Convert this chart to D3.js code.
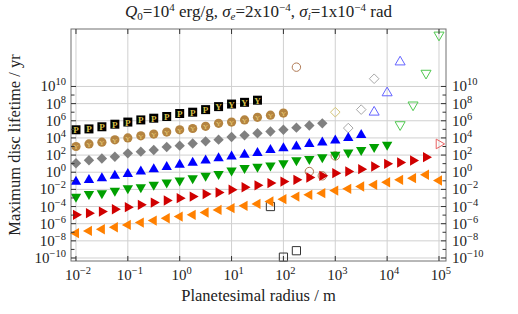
<!DOCTYPE html>
<html>
<head>
<meta charset="utf-8">
<script src="https://cdn.jsdelivr.net/npm/d3@7"></script>
<style>
  body { margin: 0; background: #fff; }
  svg { display: block; font-family: "Liberation Serif", "DejaVu Serif", serif; }
</style>
</head>
<body>
<div id="chart"></div>
<script>
// planetesimal radius grid (m), quarter decades
const radius = [1e-2, 1.78e-2, 3.16e-2, 5.62e-2, 1e-1, 1.78e-1, 3.16e-1, 5.62e-1,
  1, 1.78, 3.16, 5.62, 10, 17.8, 31.6, 56.2, 100, 178, 316, 562,
  1e3, 1.78e3, 3.16e3, 5.62e3, 1e4, 1.78e4, 3.16e4, 5.62e4, 1e5];

// log10 of max disc lifetime (yr); open markers follow straight after the filled ones
const blackFilled = [4.95, 5.05, 5.3, 5.6, 5.85, 6.1, 6.3, 6.5, 6.85, 7.0, 7.3, 7.65, 7.95, 8.15, 8.4];
const blackOpen = [-4.0, -9.9, -9.15];
const brownFilled = [3.0, 3.3, 3.5, 3.78, 4.0, 4.25, 4.45, 4.68, 4.95, 5.1, 5.35, 5.7, 5.85, 6.1, 6.4, 6.65, 6.9];
const brownOpen = [12.25, 0.08, -0.42, 1.9];
const grayFilled = [1.05, 1.4, 1.6, 1.8, 2.2, 2.4, 2.6, 2.95, 3.1, 3.35, 3.6, 3.8, 4.1, 4.3, 4.55, 4.75, 4.95, 5.2, 5.45, 5.7];
const grayOpen = [7.0, 5.15, 7.3, 10.9];
const blueFilled = [-1.1, -0.9, -0.7, -0.42, -0.2, 0.08, 0.35, 0.6, 0.86, 1.12, 1.37, 1.62, 1.83, 2.03, 2.25, 2.6, 2.8, 3.0, 3.3, 3.47, 3.7, 3.98, 4.35];
const blueOpen = [7.0, 9.25, 12.85];
const greenFilled = [-2.85, -2.55, -2.45, -2.15, -1.87, -1.74, -1.47, -1.2, -0.97, -0.7, -0.42, -0.2, 0.2, 0.48, 0.63, 0.78, 1.06, 1.4, 1.55, 1.76, 2.03, 2.3, 2.6, 2.93, 3.2];
const greenOpen = [5.55, 7.85, 11.55, 16.0];
const redFilled = [-4.97, -4.77, -4.59, -4.31, -4.07, -3.8, -3.54, -3.3, -3.02, -2.84, -2.55, -2.37, -2.05, -1.75, -1.53, -1.27, -1.09, -0.89, -0.62, -0.42, -0.11, 0.08, 0.36, 0.67, 0.98, 1.13, 1.37, 1.76];
const redOpen = [3.3];
const orangeFilled = [-7.1, -6.84, -6.64, -6.41, -6.14, -5.87, -5.64, -5.36, -5.17, -4.97, -4.7, -4.39, -4.19, -3.92, -3.69, -3.42, -3.14, -2.84, -2.64, -2.44, -2.14, -1.94, -1.67, -1.47, -1.16, -0.89, -0.69, -0.3, -0.97];
const orangeOpen = [];

const xTickExps = [-2, -1, 0, 1, 2, 3, 4, 5];
const yTickExps = [-10, -8, -6, -4, -2, 0, 2, 4, 6, 8, 10];

const width = 518, height = 314;
const margin = { top: 29, right: 72, bottom: 53, left: 71 };
const pw = width - margin.left - margin.right;
const ph = height - margin.top - margin.bottom;

const svg = d3.select("#chart").append("svg")
  .attr("width", width).attr("height", height);

const x = d3.scaleLog().domain([10 ** -2.096, 10 ** 5.135]).range([margin.left, margin.left + pw]);
const y = d3.scaleLog().domain([10 ** -10.35, 10 ** 16.7]).range([margin.top + ph, margin.top]);

// rich text helper: segments of [text, shift, size, italic]
function richText(sel, segs) {
  let prev = 0;
  segs.forEach(([t, shift, size, it]) => {
    sel.append("tspan")
      .attr("dy", shift - prev)
      .attr("font-size", size)
      .attr("font-style", it ? "italic" : null)
      .text(t);
    prev = shift;
  });
}
const pow10 = (e, big, small) => [["10", 0, big], [String(e).replace("-", "\u2212"), -6, small]];

// grid
const grid = svg.append("g").attr("stroke", "#d0d0d0").attr("stroke-width", 1);
grid.selectAll(".gx").data(xTickExps).enter().append("line")
  .attr("x1", d => x(10 ** d)).attr("x2", d => x(10 ** d))
  .attr("y1", margin.top).attr("y2", margin.top + ph);
grid.selectAll(".gy").data(yTickExps).enter().append("line")
  .attr("x1", margin.left).attr("x2", margin.left + pw)
  .attr("y1", d => y(10 ** d)).attr("y2", d => y(10 ** d));

// markers
function shapePath(kind, r) {
  const a = r * 0.866, b = r * 0.5;
  switch (kind) {
    case "up": return `M0,${-r}L${a},${b}L${-a},${b}Z`;
    case "down": return `M0,${r}L${a},${-b}L${-a},${-b}Z`;
    case "right": return `M${r},0L${-b},${a}L${-b},${-a}Z`;
    case "left": return `M${-r},0L${b},${a}L${b},${-a}Z`;
    case "diamond": return `M0,${-r}L${r},0L0,${r}L${-r},0Z`;
    case "square": return `M${-r},${-r}H${r}V${r}H${-r}Z`;
    case "circle": return d3.arc()({ innerRadius: 0, outerRadius: r, startAngle: 0, endAngle: 2 * Math.PI });
  }
}

const series = [
  { filled: blackFilled, open: blackOpen, kind: "square", r: 4.5, fill: "#000", stroke: "#333" },
  { filled: brownFilled, open: brownOpen, kind: "circle", r: 4.6, fill: "#b48440", stroke: "#b07a55" },
  { filled: grayFilled, open: grayOpen, kind: "diamond", r: 5.2, fill: "#808080", stroke: "#a8a8a8", firstOpen: "#d4c474" },
  { filled: blueFilled, open: blueOpen, kind: "up", r: 6, fill: "#0000ff", stroke: "#6464ff" },
  { filled: greenFilled, open: greenOpen, kind: "down", r: 6, fill: "#00a000", stroke: "#50c850" },
  { filled: redFilled, open: redOpen, kind: "right", r: 6, fill: "#d00000", stroke: "#e86060" },
  { filled: orangeFilled, open: orangeOpen, kind: "left", r: 6, fill: "#ff8000", stroke: "#ffa040" }
];

series.forEach(s => {
  const g = svg.append("g");
  const fData = s.filled.map((v, i) => ({ r: radius[i], v, i }));
  const oData = s.open.map((v, i) => ({ r: radius[s.filled.length + i], v, i }));
  g.selectAll(".o").data(oData).enter().append("path")
    .attr("transform", d => `translate(${x(d.r)},${y(10 ** d.v)})`)
    .attr("d", shapePath(s.kind, s.kind === "up" || s.kind === "down" ? 5.8 : s.r - 0.4))
    .attr("fill", "none")
    .attr("stroke", d => (d.i === 0 && s.firstOpen) ? s.firstOpen : s.stroke)
    .attr("stroke-width", 1);
  const m = g.selectAll(".f").data(fData).enter().append("g")
    .attr("transform", d => `translate(${x(d.r)},${y(10 ** d.v)})`);
  m.append("path").attr("d", shapePath(s.kind, s.r)).attr("fill", s.fill);
  if (s.kind === "square") {
    m.append("text").attr("text-anchor", "middle").attr("y", 3.5)
      .attr("font-size", 9).attr("font-weight", "bold").attr("fill", "#d8c048")
      .text(d => d.i < 11 ? "P" : "Y");
  }
  if (s.kind === "circle") {
    m.append("text").attr("text-anchor", "middle").attr("y", 2.8)
      .attr("font-size", 7).attr("fill", "#e8cc78")
      .text("Y");
  }
});

// frame
svg.append("rect")
  .attr("x", margin.left).attr("y", margin.top).attr("width", pw).attr("height", ph)
  .attr("fill", "none").attr("stroke", "#707070").attr("stroke-width", 1);

// ticks
const ticks = svg.append("g").attr("stroke", "#333").attr("stroke-width", 1);
xTickExps.forEach(e => {
  const xx = x(10 ** e);
  ticks.append("line").attr("x1", xx).attr("x2", xx).attr("y1", margin.top + ph).attr("y2", margin.top + ph - 5);
  ticks.append("line").attr("x1", xx).attr("x2", xx).attr("y1", margin.top).attr("y2", margin.top + 5);
});
d3.range(-10, 11).forEach(e => {
  const yy = y(10 ** e), len = e % 2 === 0 ? 5 : 3.5;
  ticks.append("line").attr("x1", margin.left).attr("x2", margin.left + len).attr("y1", yy).attr("y2", yy);
  ticks.append("line").attr("x1", margin.left + pw).attr("x2", margin.left + pw - len).attr("y1", yy).attr("y2", yy);
});

// tick labels
xTickExps.forEach(e => {
  const t = svg.append("text").attr("x", x(10 ** e) + 2).attr("y", 280)
    .attr("text-anchor", "middle").attr("fill", "#222");
  richText(t, pow10(e, 15, 10.5));
});
yTickExps.forEach(e => {
  const yy = y(10 ** e) + 5;
  const tl = svg.append("text").attr("x", 66).attr("y", yy).attr("text-anchor", "end").attr("fill", "#222");
  richText(tl, pow10(e, 15, 10.5));
  const tr = svg.append("text").attr("x", 452).attr("y", yy).attr("text-anchor", "start").attr("fill", "#222");
  richText(tr, pow10(e, 15, 10.5));
});

// axis titles
svg.append("text").attr("x", margin.left + pw / 2).attr("y", 301)
  .attr("text-anchor", "middle").attr("font-size", 16.5).attr("fill", "#222")
  .text("Planetesimal radius / m");
svg.append("text").attr("transform", `translate(20,${margin.top + ph / 2}) rotate(-90)`)
  .attr("text-anchor", "middle").attr("font-size", 16.5).attr("fill", "#222")
  .text("Maximum disc lifetime / yr");

// title
const title = svg.append("text").attr("x", margin.left + pw / 2).attr("y", 17)
  .attr("text-anchor", "middle").attr("fill", "#222");
richText(title, [
  ["Q", 0, 17, true], ["0", 3, 11], ["=10", 0, 17], ["4", -6, 11], [" erg/g, ", 0, 17],
  ["\u03c3", 0, 17, true], ["e", 3, 11, true], ["=2x10", 0, 17], ["\u22124", -6, 11], [", ", 0, 17],
  ["\u03c3", 0, 17, true], ["i", 3, 11, true], ["=1x10", 0, 17], ["\u22124", -6, 11], [" rad", 0, 17]
]);
</script>
</body>
</html>
